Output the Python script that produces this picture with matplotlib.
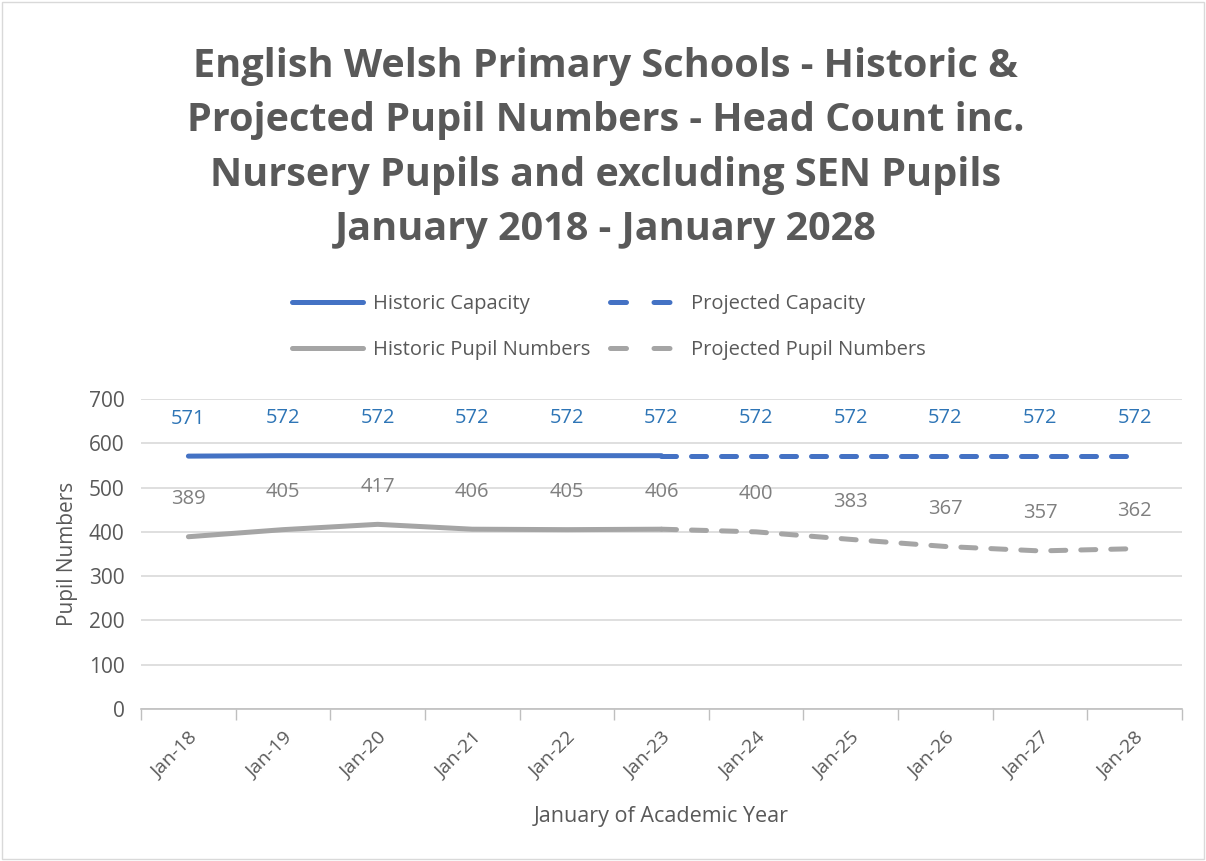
import matplotlib
matplotlib.use("Agg")
import matplotlib.pyplot as plt
from matplotlib.lines import Line2D
from matplotlib.patches import Rectangle
import numpy as np

categories = ["Jan-18", "Jan-19", "Jan-20", "Jan-21", "Jan-22", "Jan-23",
              "Jan-24", "Jan-25", "Jan-26", "Jan-27", "Jan-28"]
capacity = [571, 572, 572, 572, 572, 572, 572, 572, 572, 572, 572]
pupils = [389, 405, 417, 406, 405, 406, 400, 383, 367, 357, 362]
historic_end = 5  # index of last historic year (Jan-23)

title = ("English Welsh Primary Schools - Historic &\n"
         "Projected Pupil Numbers - Head Count inc.\n"
         "Nursery Pupils and excluding SEN Pupils\n"
         "January 2018 - January 2028")

FONT = ["Open Sans", "DejaVu Sans"]
plt.rcParams['font.family'] = FONT

BLUE = "#4472C4"
GRAY = "#A5A5A5"
BLUE_TXT = "#2E75B6"
GRAY_TXT = "#7F7F7F"
TXT = "#595959"

fig = plt.figure(figsize=(12.06, 8.61), dpi=100)
ax = fig.add_axes([0.117, 0.1765, 0.980 - 0.117, 0.5366 - 0.1765])

x = np.arange(len(categories))
lw = 3.6
hx = x[:historic_end + 1]
px = x[historic_end:]

ax.plot(hx, capacity[:historic_end + 1], color=BLUE, lw=lw, solid_capstyle='round', zorder=3)
ax.plot(px, capacity[historic_end:], color=BLUE, lw=lw, linestyle=(0, (3.0, 3.0)),
        dash_capstyle='round', zorder=3)
ax.plot(hx, pupils[:historic_end + 1], color=GRAY, lw=lw, solid_capstyle='round', zorder=3)
ax.plot(px, pupils[historic_end:], color=GRAY, lw=lw, linestyle=(0, (3.0, 3.0)),
        dash_capstyle='round', zorder=3)

for xi, v in zip(x, capacity):
    ax.annotate(str(v), (xi, v), xytext=(0, 27), textcoords='offset points',
                ha='center', va='center', color=BLUE_TXT, fontsize=14.5)
for xi, v in zip(x, pupils):
    ax.annotate(str(v), (xi, v), xytext=(0, 27), textcoords='offset points',
                ha='center', va='center', color=GRAY_TXT, fontsize=14.5)

ax.set_xlim(-0.5, len(categories) - 0.5)
ax.set_ylim(0, 700)
ax.set_yticks(np.arange(0, 701, 100))
ax.set_xticks(x)
ax.set_xticklabels(categories, rotation=45, ha='right', rotation_mode='anchor',
                   fontsize=14, color=TXT)
ax.set_xticks(np.arange(-0.5, len(categories), 1), minor=True)
ax.tick_params(axis='x', which='major', length=0, pad=14)
ax.tick_params(axis='x', which='minor', length=8, color="#BFBFBF", width=1)
ax.tick_params(axis='y', length=0, labelsize=15, labelcolor=TXT, pad=12)
ax.grid(axis='y', color="#D9D9D9", lw=1.2)
ax.set_axisbelow(True)
for s in ['top', 'right', 'left']:
    ax.spines[s].set_visible(False)
ax.spines['bottom'].set_color("#BFBFBF")
ax.spines['bottom'].set_linewidth(1.2)

ax.set_ylabel("Pupil Numbers", fontsize=15, color=TXT, labelpad=8)
ax.set_xlabel("January of Academic Year", fontsize=15.5, color=TXT, labelpad=18)

fig.text(0.502, 1 - 148 / 861, title, ha='center', va='center', fontsize=28.5,
         fontweight='bold', color=TXT, linespacing=1.52)

handles = [
    Line2D([], [], color=BLUE, lw=lw, solid_capstyle='round'),
    Line2D([], [], color=GRAY, lw=lw, solid_capstyle='round'),
    Line2D([], [], color=BLUE, lw=lw, linestyle=(0, (3.2, 5.5)), dash_capstyle='round'),
    Line2D([], [], color=GRAY, lw=lw, linestyle=(0, (3.2, 5.5)), dash_capstyle='round'),
]
labels = ["Historic Capacity", "Historic Pupil Numbers",
          "Projected Capacity", "Projected Pupil Numbers"]
leg = fig.legend(handles, labels, ncol=2, loc='center', bbox_to_anchor=(0.505, 1 - 327 / 861),
                 frameon=False, fontsize=14.5, handlelength=3.5, handletextpad=0.5,
                 columnspacing=1.0, labelspacing=1.3)
for t in leg.get_texts():
    t.set_color(TXT)

fig.patches.append(Rectangle((0.002, 0.002), 0.996, 0.996, transform=fig.transFigure,
                             fill=False, edgecolor="#D9D9D9", lw=1))

fig.savefig("out.png", dpi=100)
